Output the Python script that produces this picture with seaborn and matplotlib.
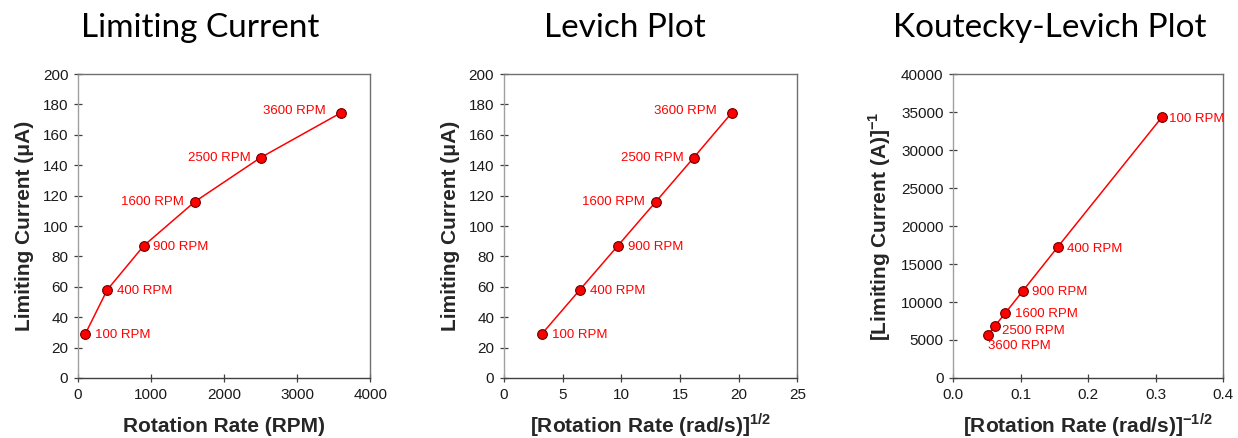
import matplotlib
matplotlib.use("Agg")
import matplotlib.pyplot as plt
import seaborn as sns
import pandas as pd

# Rotating disk electrode data
rpm_labels = ["100 RPM", "400 RPM", "900 RPM", "1600 RPM", "2500 RPM", "3600 RPM"]
rotation_rpm = [100, 400, 900, 1600, 2500, 3600]
limiting_current_uA = [29, 58, 87, 116, 145, 174.5]
sqrt_omega = [3.24, 6.47, 9.71, 12.95, 16.18, 19.42]
inv_sqrt_omega = [0.309, 0.1545, 0.103, 0.0772, 0.0618, 0.0515]
inv_current = [34300, 17200, 11450, 8550, 6850, 5720]

titles = ["Limiting Current", "Levich Plot", "Koutecky-Levich Plot"]

sns.set_style("white")
plt.rcParams["font.family"] = ["Liberation Sans", "DejaVu Sans"]
plt.rcParams["mathtext.fontset"] = "custom"
plt.rcParams["mathtext.rm"] = "Liberation Sans"
plt.rcParams["mathtext.bf"] = "Liberation Sans:bold"

df = pd.DataFrame({
    "label": rpm_labels,
    "rpm": rotation_rpm,
    "i": limiting_current_uA,
    "sq": sqrt_omega,
    "isq": inv_sqrt_omega,
    "ii": inv_current,
})

fig = plt.figure(figsize=(12.38, 4.38), dpi=100)
axes = [
    fig.add_axes([0.063, 0.137, 0.236, 0.694]),
    fig.add_axes([0.407, 0.137, 0.237, 0.694]),
    fig.add_axes([0.770, 0.137, 0.218, 0.694]),
]

red = "#ff0000"
specs = [
    dict(x="rpm", y="i", xlim=(0, 4000), xticks=range(0, 4001, 1000),
         ylim=(0, 200), yticks=range(0, 201, 20),
         xlabel="Rotation Rate (RPM)", ylabel="Limiting Current (μA)",
         xfmt="{:.0f}"),
    dict(x="sq", y="i", xlim=(0, 25), xticks=range(0, 26, 5),
         ylim=(0, 200), yticks=range(0, 201, 20),
         xlabel=r"[Rotation Rate (rad/s)]$^{\mathbf{1/2}}$",
         ylabel="Limiting Current (μA)", xfmt="{:.0f}"),
    dict(x="isq", y="ii", xlim=(0, 0.4), xticks=[0, 0.1, 0.2, 0.3, 0.4],
         ylim=(0, 40000), yticks=range(0, 40001, 5000),
         xlabel=r"[Rotation Rate (rad/s)]$^{\mathbf{-1/2}}$",
         ylabel=r"[Limiting Current (A)]$^{\mathbf{-1}}$", xfmt="{:.1f}"),
]

# label offsets in points (dx, dy, ha)
offsets_lev = [(7, -1, "left"), (7, -1, "left"), (7, -1, "left"),
               (-8, 0, "right"), (-7, 0, "right"), (-11, 1.5, "right")]
offsets_kl = [(5, -1, "left"), (7, -1, "left"), (7, -1, "left"),
              (7, -1, "left"), (5, -3.5, "left"), (0, -8.5, "left")]
all_offsets = [offsets_lev, offsets_lev, offsets_kl]

for ax, spec, offs in zip(axes, specs, all_offsets):
    sns.lineplot(data=df, x=spec["x"], y=spec["y"], ax=ax, color=red,
                 linewidth=1.1, marker="o", markersize=7,
                 markerfacecolor=red, markeredgecolor="#6a0000",
                 markeredgewidth=0.8, sort=False)
    ax.set_xlim(*spec["xlim"])
    ax.set_ylim(*spec["ylim"])
    ax.set_xticks(list(spec["xticks"]))
    ax.set_xticklabels([spec["xfmt"].format(v) for v in spec["xticks"]])
    ax.set_yticks(list(spec["yticks"]))
    ax.tick_params(axis="both", direction="inout", length=6, width=0.9,
                   color="#404040", labelsize=11, labelcolor="#1a1a1a",
                   bottom=True, left=True, top=False, right=False, pad=4)
    ax.set_xlabel(spec["xlabel"], fontsize=15, fontweight="bold")
    ax.xaxis.set_label_coords(0.5, -0.178)
    ax.xaxis.label.set_va("baseline")
    ax.set_ylabel(spec["ylabel"], fontsize=15, fontweight="bold", labelpad=6)
    for side, col in [("bottom", "#404040"), ("left", "#a0a0a0"),
                      ("top", "#707070"), ("right", "#707070")]:
        ax.spines[side].set_visible(True)
        ax.spines[side].set_color(col)
        ax.spines[side].set_linewidth(1.0)
    for (_, row), (dx, dy, ha) in zip(df.iterrows(), offs):
        ax.annotate(row["label"], (row[spec["x"]], row[spec["y"]]),
                    xytext=(dx, dy), textcoords="offset points",
                    ha=ha, va="center", color=red, fontsize=9.5)

title_x = [0.162, 0.505, 0.848]
for tx, title in zip(title_x, titles):
    fig.text(tx, 0.936, title, ha="center", va="center", fontsize=24,
             family=["Lato", "DejaVu Sans"], fontweight="normal", color="black")

fig.savefig("out.png", dpi=100, facecolor="white")
